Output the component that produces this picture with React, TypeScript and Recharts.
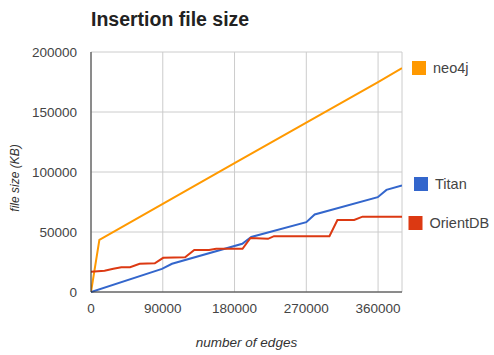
import { CartesianGrid, Label, Line, LineChart, XAxis, YAxis } from "recharts";

const xTicks = [0, 90000, 180000, 270000, 360000];
const yTicks = [0, 50000, 100000, 150000, 200000];

const neo4jEdges = [0, 10500, 90000, 180000, 270000, 360000, 390000];
const neo4jSize = [0, 43500, 73500, 107300, 141100, 174900, 186500];

const titanEdges = [0, 89000, 101600, 189700, 201000, 270000, 280500, 359600, 370500, 390000];
const titanSize = [0, 19300, 23500, 40200, 45900, 58200, 64600, 79000, 85100, 88750];

const orientEdges = [
  0, 17000, 28000, 38000, 49000, 61000, 80000, 90500, 118000, 129500, 148000, 157000, 190000, 200000,
  222000, 229500, 299000, 309000, 330000, 340500, 390000,
];
const orientSize = [
  16800, 17800, 19300, 20700, 20700, 23500, 23900, 28500, 29000, 35000, 35000, 36000, 36000, 45000,
  44300, 46500, 46500, 60000, 60000, 62800, 62800,
];

const toPoints = (edges: number[], sizes: number[]) => edges.map((e, i) => ({ edges: e, size: sizes[i] }));

const series = [
  { name: "neo4j", color: "#ff9900", data: toPoints(neo4jEdges, neo4jSize), lx: 412, ly: 68 },
  { name: "Titan", color: "#3366cc", data: toPoints(titanEdges, titanSize), lx: 414, ly: 184 },
  { name: "OrientDB", color: "#dc3912", data: toPoints(orientEdges, orientSize), lx: 408.5, ly: 223 },
];

const font = "'Liberation Sans', Arial, sans-serif";

export default function App() {
  return (
    <div style={{ position: "fixed", left: 0, top: 0, width: 494, height: 355, background: "#fff", fontFamily: font }}>
      <LineChart width={494} height={355} margin={{ top: 52, right: 92, bottom: 0, left: 0 }}>
        <CartesianGrid stroke="#cccccc" strokeWidth={1} />
        <XAxis
          dataKey="edges"
          type="number"
          domain={[0, 390000]}
          ticks={xTicks}
          height={63}
          tickLine={false}
          tickSize={6}
          tickMargin={5}
          axisLine={{ stroke: "#333", strokeWidth: 1 }}
          tick={{ fill: "#444", fontSize: 13.5, fontFamily: font }}
          allowDataOverflow
        >
          <Label
            content={() => (
              <text x={246.5} y={342} textAnchor="middle" dominantBaseline="central" fontStyle="italic" fontSize={13.5} fill="#333" fontFamily={font}>
                number of edges
              </text>
            )}
          />
        </XAxis>
        <YAxis
          type="number"
          domain={[0, 200000]}
          ticks={yTicks}
          width={91}
          tickLine={false}
          tickSize={6}
          tickMargin={8}
          axisLine={{ stroke: "#333", strokeWidth: 1 }}
          tick={{ fill: "#444", fontSize: 13.5, fontFamily: font }}
        >
          <Label
            content={() => (
              <text x={14.5} y={178} transform="rotate(-90 14.5 178)" textAnchor="middle" dominantBaseline="central" fontStyle="italic" fontSize={12} fill="#333" fontFamily={font}>
                file size (KB)
              </text>
            )}
          />
        </YAxis>
        {series.map((s) => (
          <Line
            key={s.name}
            name={s.name}
            data={s.data}
            dataKey="size"
            type="linear"
            stroke={s.color}
            strokeWidth={2}
            dot={false}
            isAnimationActive={false}
          />
        ))}
      </LineChart>
      <svg width={494} height={355} style={{ position: "absolute", left: 0, top: 0, pointerEvents: "none" }}>
        <text x={91} y={25.7} fontSize={19.5} fontWeight="bold" fill="#222" fontFamily={font}>
          Insertion file size
        </text>
        {series.map((s) => (
          <g key={s.name}>
            <rect x={s.lx} y={s.ly - 7} width={14} height={14} fill={s.color} />
            <text x={s.lx + 21} y={s.ly} dominantBaseline="central" fontSize={14.5} fill="#444" fontFamily={font}>
              {s.name}
            </text>
          </g>
        ))}
      </svg>
    </div>
  );
}
